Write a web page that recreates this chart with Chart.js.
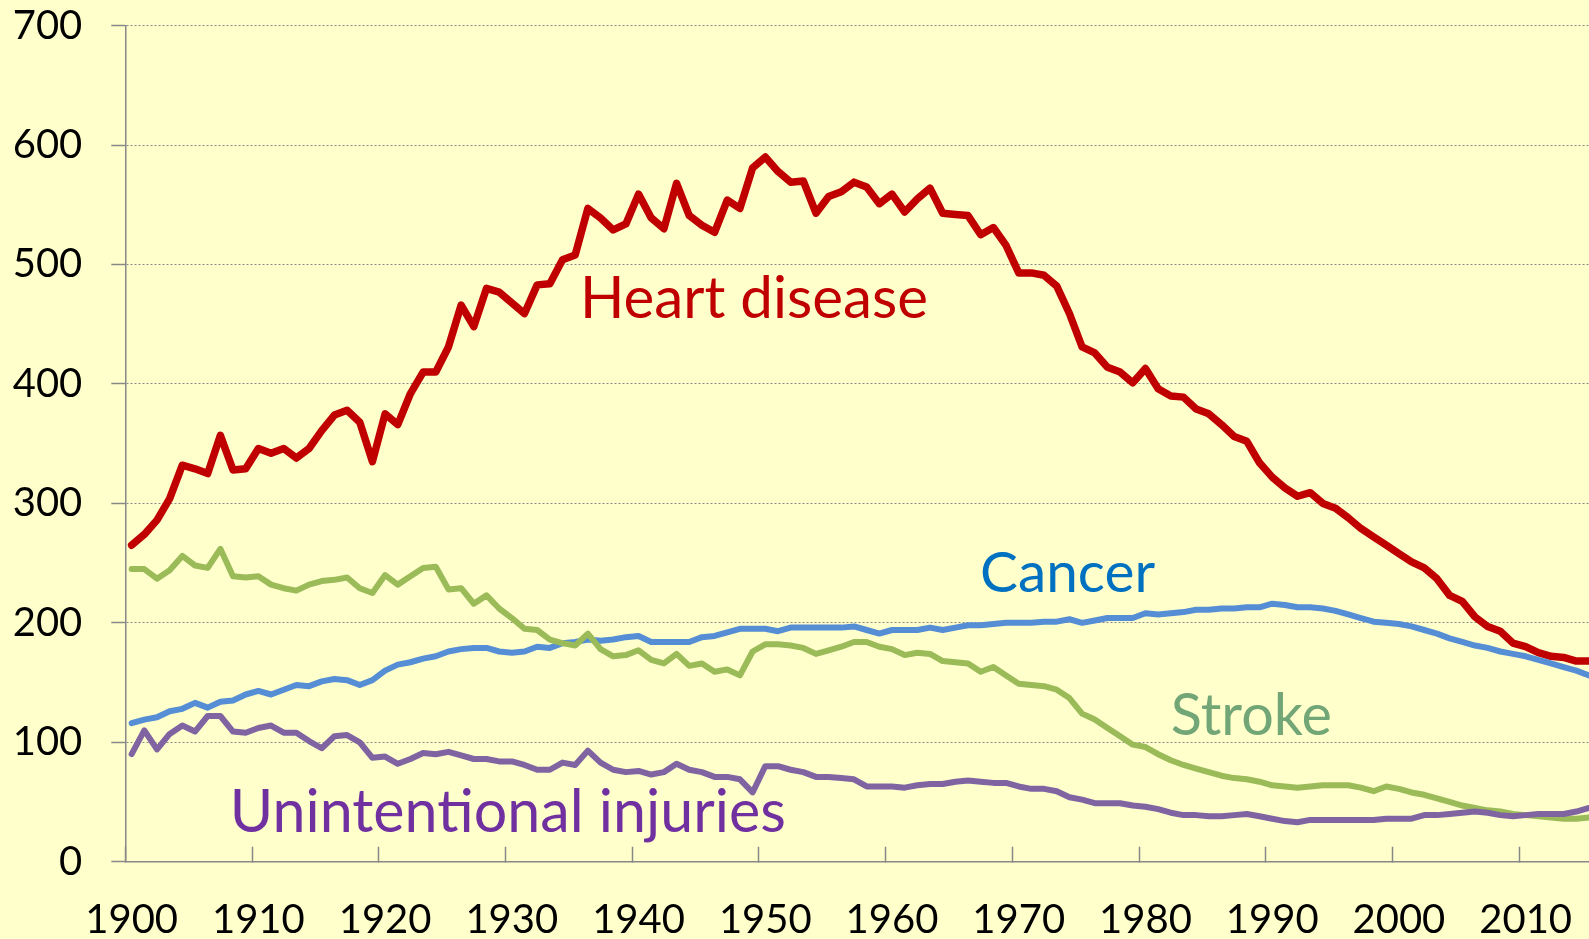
<!DOCTYPE html>
<html><head><meta charset="utf-8">
<script src="https://cdn.jsdelivr.net/npm/chart.js@4"></script>
<style>html,body{margin:0;padding:0;background:#FFFFCC;overflow:hidden}canvas{display:block}</style>
</head><body>
<canvas id="c" width="1589" height="939" style="width:1589px;height:939px"></canvas>
<script>
const years = Array.from({length: 116}, (_, i) => 1900 + i);

const heartDisease = [
  265,274,286,304,332,329,325,357,328,329,
  346,342,346,338,346,361,374,378,368,335,
  375,366,392,410,410,431,466,448,480,477,
  468,459,483,484,504,508,547,539,529,534,
  559,539,530,568,541,533,527,554,547,581,
  590,578,569,570,543,557,561,569,565,551,
  559,544,555,564,543,542,541,525,531,516,
  493,493,491,482,459,431,426,414,410,401,
  413,396,390,389,379,375,366,356,352,334,
  322,313,306,309,300,296,288,279,272,265,
  258,251,246,237,223,218,205,197,193,183,
  180,175,172,171,168,168
];
const cancer = [
  116,119,121,126,128,133,129,134,135,140,
  143,140,144,148,147,151,153,152,148,152,
  160,165,167,170,172,176,178,179,179,176,
  175,176,180,179,183,184,186,185,186,188,
  189,184,184,184,184,188,189,192,195,195,
  195,193,196,196,196,196,196,197,194,191,
  194,194,194,196,194,196,198,198,199,200,
  200,200,201,201,203,200,202,204,204,204,
  208,207,208,209,211,211,212,212,213,213,
  216,215,213,213,212,210,207,204,201,200,
  199,197,194,191,187,184,181,179,176,174,
  172,169,166,163,160,156
];
const stroke = [
  245,245,237,244,256,248,246,262,239,238,
  239,232,229,227,232,235,236,238,229,225,
  240,232,239,246,247,228,229,216,223,212,
  204,195,194,186,183,181,191,178,172,173,
  177,169,166,174,164,166,159,161,156,176,
  182,182,181,179,174,177,180,184,184,180,
  178,173,175,174,168,167,166,159,163,156,
  149,148,147,144,137,124,119,112,105,98,
  96,90,85,81,78,75,72,70,69,67,
  64,63,62,63,64,64,64,62,59,63,
  61,58,56,53,50,47,45,43,42,40,
  39,38,37,36,36,37
];
const injuries = [
  90,110,94,107,114,109,122,122,109,108,
  112,114,108,108,101,95,105,106,100,87,
  88,82,86,91,90,92,89,86,86,84,
  84,81,77,77,83,81,93,83,77,75,
  76,73,75,82,77,75,71,71,69,58,
  80,80,77,75,71,71,70,69,63,63,
  63,62,64,65,65,67,68,67,66,66,
  63,61,61,59,54,52,49,49,49,47,
  46,44,41,39,39,38,38,39,40,38,
  36,34,33,35,35,35,35,35,35,36,
  36,36,39,39,40,41,42,41,39,38,
  39,40,40,40,42,45
];

const xTickLabels = [1900,1910,1920,1930,1940,1950,1960,1970,1980,1990,2000,2010];
const yTickValues = [0,100,200,300,400,500,600,700];
const seriesNames = ['Heart disease','Cancer','Stroke','Unintentional injuries'];

// text labels placed in data coordinates
const seriesLabels = [
  {text: seriesNames[0], x: 1935.38, y: 455,   color: '#C00000', width: 348},
  {text: seriesNames[1], x: 1966.95, y: 226.1, color: '#0070C0', width: 175},
  {text: seriesNames[2], x: 1982.0,  y: 106.1, color: '#72A676', width: 161},
  {text: seriesNames[3], x: 1907.75, y: 24.6,  color: '#7030A0', width: 556}
];

const labelPlugin = {
  id: 'seriesLabels',
  afterDatasetsDraw(chart) {
    const {ctx, scales: {x, y}} = chart;
    ctx.save();
    seriesLabels.forEach(a => {
      ctx.font = '60px Lato';
      const w = ctx.measureText(a.text).width;
      const size = 60 * a.width / w;
      ctx.font = size.toFixed(2) + 'px Lato';
      ctx.fillStyle = a.color;
      ctx.textAlign = 'left';
      ctx.textBaseline = 'alphabetic';
      ctx.fillText(a.text, x.getPixelForValue(a.x), y.getPixelForValue(a.y));
    });
    ctx.restore();
  }
};

const toPts = arr => years.map((yr, i) => ({x: yr, y: arr[i]}));

new Chart(document.getElementById('c'), {
  type: 'line',
  data: {
    datasets: [
      {label: seriesNames[0], data: toPts(heartDisease), borderColor: '#C00000', borderWidth: 7.5, order: 4},
      {label: seriesNames[1], data: toPts(cancer), borderColor: '#558ED5', borderWidth: 6, order: 3},
      {label: seriesNames[2], data: toPts(stroke), borderColor: '#9BBB59', borderWidth: 6, order: 2},
      {label: seriesNames[3], data: toPts(injuries), borderColor: '#8064A2', borderWidth: 6, order: 1}
    ]
  },
  options: {
    responsive: false,
    animation: false,
    devicePixelRatio: 1,
    layout: {padding: {top: 25.7, left: 0, right: 0, bottom: 0}},
    plugins: {legend: {display: false}, tooltip: {enabled: false}},
    elements: {
      point: {radius: 0},
      line: {tension: 0, borderJoinStyle: 'round', borderCapStyle: 'round', fill: false}
    },
    scales: {
      x: {
        type: 'linear',
        min: 1899.5,
        max: 2015,
        afterBuildTicks: s => { s.ticks = xTickLabels.map(v => ({value: v - 0.5})); },
        afterFit: s => { s.height = 77.3; s.paddingLeft = 0; s.paddingRight = 0; },
        grid: {drawOnChartArea: false, drawTicks: true, tickLength: -15, tickColor: '#888888', tickWidth: 1.5, tickBorderDash: []},
        border: {display: true, color: '#888888', width: 1.5},
        ticks: {
          autoSkip: false, maxRotation: 0, minRotation: 0,
          padding: 49, labelOffset: 6.34, color: '#000000',
          font: {family: 'Lato', size: 40},
          callback: v => String(Math.round(v + 0.5))
        }
      },
      y: {
        min: 0,
        max: 700,
        afterBuildTicks: s => { s.ticks = yTickValues.map(v => ({value: v})); },
        afterFit: s => { s.width = 125.3; s.paddingTop = 0; s.paddingBottom = 0; },
        grid: {color: '#8a8a8a', lineWidth: 1, tickLength: 14, tickColor: '#888888', tickWidth: 1.5, tickBorderDash: []},
        border: {display: true, color: '#888888', width: 1.5, dash: [2, 2]},
        ticks: {padding: 29, color: '#000000', font: {family: 'Lato', size: 40}}
      }
    }
  },
  plugins: [labelPlugin]
});
</script>
</body></html>
